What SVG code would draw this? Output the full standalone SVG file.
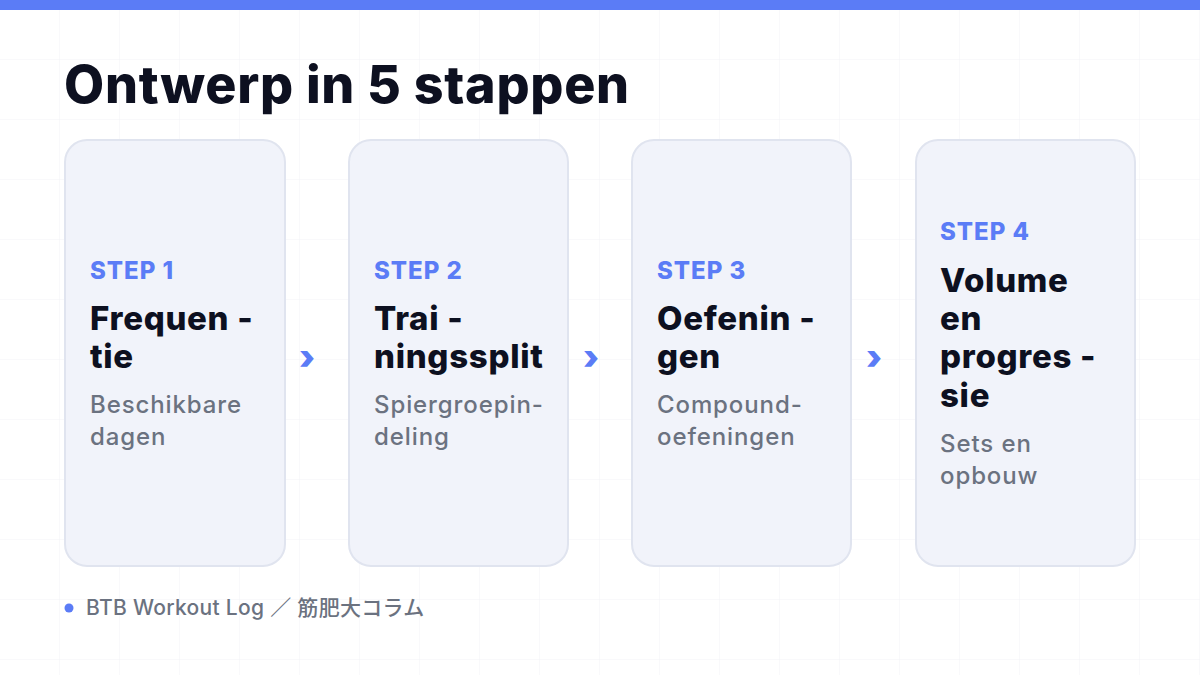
<svg xmlns="http://www.w3.org/2000/svg" width="1200" height="675" viewBox="0 0 1200 675">
<defs>
<pattern id="grid" width="60" height="60" patternUnits="userSpaceOnUse">
<path d="M60 0V60M0 60H60" fill="none" stroke="#F2F3F7" stroke-width="1"/>
</pattern>
</defs>
<style>
.card{fill:#F1F3FA;stroke:#E0E4EF;stroke-width:2}
.step{font-family:Inter,"Liberation Sans",sans-serif;font-weight:800;font-size:24px;fill:#5B7CF6;letter-spacing:1px}
.ttl{font-family:Inter,"Liberation Sans",sans-serif;font-weight:800;font-size:33px;fill:#0D1020;letter-spacing:0.7px}
.sub{font-family:Inter,"Liberation Sans",sans-serif;font-weight:500;font-size:24px;fill:#6B7280;letter-spacing:0.9px}
.arr{font-family:Inter,"Liberation Sans",sans-serif;font-weight:900;font-size:34px;fill:#5B7CF6}
</style>
<rect width="1200" height="675" fill="#FFFFFF"/>
<rect width="1200" height="675" fill="url(#grid)"/>
<rect width="1200" height="10" fill="#5B7CF6"/>
<text x="64" y="103" font-family="Inter,'Liberation Sans',sans-serif" font-weight="800" font-size="52" fill="#0D1020" letter-spacing="0.7">Ontwerp in 5 stappen</text>

<g id="connectors">
<text class="arr" x="307" y="369" text-anchor="middle">›</text>
<text class="arr" x="591" y="369" text-anchor="middle">›</text>
<text class="arr" x="874" y="369" text-anchor="middle">›</text>
</g>

<g id="step1">
<rect class="card" x="65" y="140" width="220" height="426" rx="22"/>
<text class="step" x="90" y="279">STEP 1</text>
<text class="ttl" x="90" y="330">Frequen -</text>
<text class="ttl" x="90" y="368">tie</text>
<text class="sub" x="90" y="413">Beschikbare</text>
<text class="sub" x="90" y="445">dagen</text>
</g>

<g id="step2">
<rect class="card" x="349" y="140" width="219" height="426" rx="22"/>
<text class="step" x="374" y="279">STEP 2</text>
<text class="ttl" x="374" y="330">Trai -</text>
<text class="ttl" x="374" y="368">ningssplit</text>
<text class="sub" x="374" y="413">Spiergroepin-</text>
<text class="sub" x="374" y="445">deling</text>
</g>

<g id="step3">
<rect class="card" x="632" y="140" width="219" height="426" rx="22"/>
<text class="step" x="657" y="279">STEP 3</text>
<text class="ttl" x="657" y="330">Oefenin -</text>
<text class="ttl" x="657" y="368">gen</text>
<text class="sub" x="657" y="413">Compound-</text>
<text class="sub" x="657" y="445">oefeningen</text>
</g>

<g id="step4">
<rect class="card" x="916" y="140" width="219" height="426" rx="22"/>
<text class="step" x="940" y="240">STEP 4</text>
<text class="ttl" x="940" y="292">Volume</text>
<text class="ttl" x="940" y="330">en</text>
<text class="ttl" x="940" y="368">progres -</text>
<text class="ttl" x="940" y="407">sie</text>
<text class="sub" x="940" y="452">Sets en</text>
<text class="sub" x="940" y="484">opbouw</text>
</g>

<g id="footer">
<circle cx="69" cy="608" r="4.5" fill="#5B7CF6"/>
<text x="86" y="615" font-family="Inter,'Noto Sans CJK JP',sans-serif" font-weight="500" font-size="21" fill="#6B7280" letter-spacing="0.3">BTB Workout Log ／ 筋肥大コラム</text>
</g>
</svg>
